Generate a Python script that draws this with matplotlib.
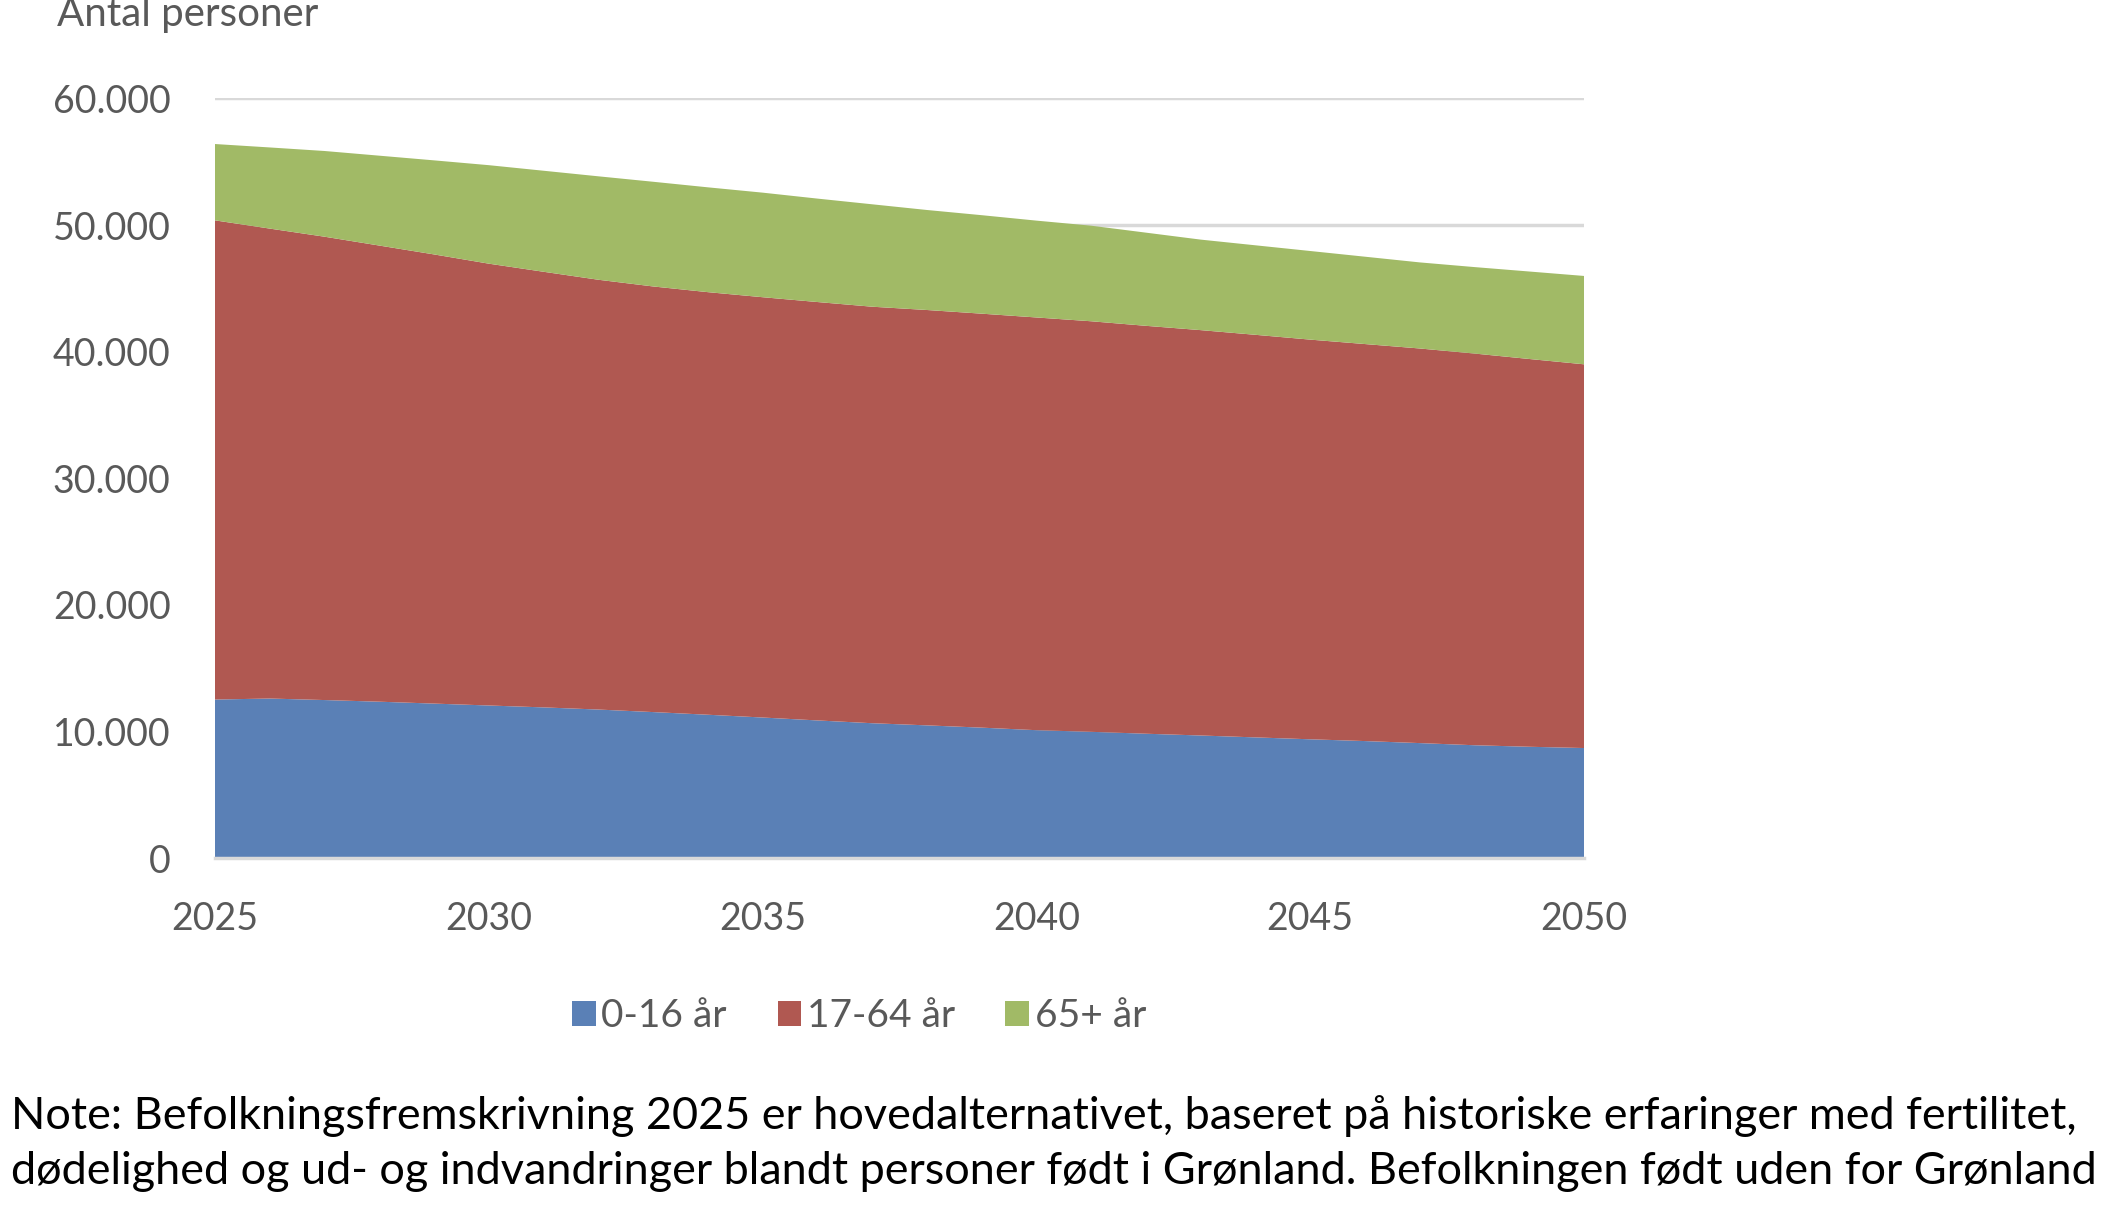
import numpy as np
import matplotlib
matplotlib.use("Agg")
import matplotlib.pyplot as plt
from matplotlib.patches import Patch

years = list(range(2025, 2051))
# 0-16 aar
young = [12520, 12600, 12480, 12350, 12200, 12050, 11900, 11730, 11530, 11320,
         11100, 10870, 10650, 10480, 10300, 10100, 9970, 9820, 9680, 9530,
         9380, 9240, 9080, 8910, 8790, 8690]
# 17-64 aar
adults = [37850, 37120, 36600, 36030, 35480, 34900, 34410, 33950, 33620, 33380,
          33200, 33050, 32900, 32810, 32700, 32600, 32430, 32220, 32020, 31800,
          31570, 31360, 31170, 30940, 30630, 30310]
# 65+ aar
elderly = [6030, 6410, 6770, 7100, 7430, 7780, 7980, 8170, 8270, 8280,
           8260, 8170, 8090, 7900, 7780, 7650, 7550, 7360, 7150, 7070,
           7000, 6900, 6800, 6830, 6910, 6980]
labels = ["0-16 år", "17-64 år", "65+ år"]
colors = ["#5A80B6", "#B05851", "#A1BA66"]
yticks = [0, 10000, 20000, 30000, 40000, 50000, 60000]
ytick_labels = ["0", "10.000", "20.000", "30.000", "40.000", "50.000", "60.000"]
xticks = [2025, 2030, 2035, 2040, 2045, 2050]

note_lines = [
    "Note: Befolkningsfremskrivning 2025 er hovedalternativet, baseret på historiske erfaringer med fertilitet,",
    "dødelighed og ud- og indvandringer blandt personer født i Grønland. Befolkningen født uden for Grønland",
]

plt.rcParams["font.family"] = ["Lato", "DejaVu Sans"]
grey = "#595959"

fig = plt.figure(figsize=(21.16, 12.08), dpi=100)
ax = fig.add_axes([0.1016, 0.2897, 0.6470, 0.6288])

ax.stackplot(years, young, adults, elderly, colors=colors, linewidth=0, zorder=2)

ax.set_xlim(2025, 2050)
ax.set_ylim(0, 60000)
ax.set_yticks(yticks)
ax.set_yticklabels(ytick_labels)
ax.set_xticks(xticks)
ax.tick_params(axis="both", length=0, labelsize=27, colors=grey)
ax.tick_params(axis="x", pad=31)
ax.tick_params(axis="y", pad=32)
ax.grid(axis="y", color="#d9d9d9", linewidth=2.5, zorder=1)
for s in ["top", "right", "left"]:
    ax.spines[s].set_visible(False)
ax.spines["bottom"].set_color("#d9d9d9")
ax.spines["bottom"].set_linewidth(2.5)

fig.text(0.027, 0.988, "Antal personer", fontsize=29, color=grey, ha="left", va="center")

handles = [Patch(facecolor=c, edgecolor="none") for c in colors]
fig.legend(handles, labels, loc="center", bbox_to_anchor=(0.406, 0.159), ncol=3,
           frameon=False, fontsize=28, labelcolor=grey, handlelength=0.6,
           handleheight=0.6, handletextpad=0.15, columnspacing=1.3)

# note below the chart, one text per line
for y, line in zip([0.0762, 0.0306], note_lines):
    fig.text(0.005, y, line, fontsize=32.4, color="black", ha="left", va="center")

fig.savefig("out.png", dpi=100)
